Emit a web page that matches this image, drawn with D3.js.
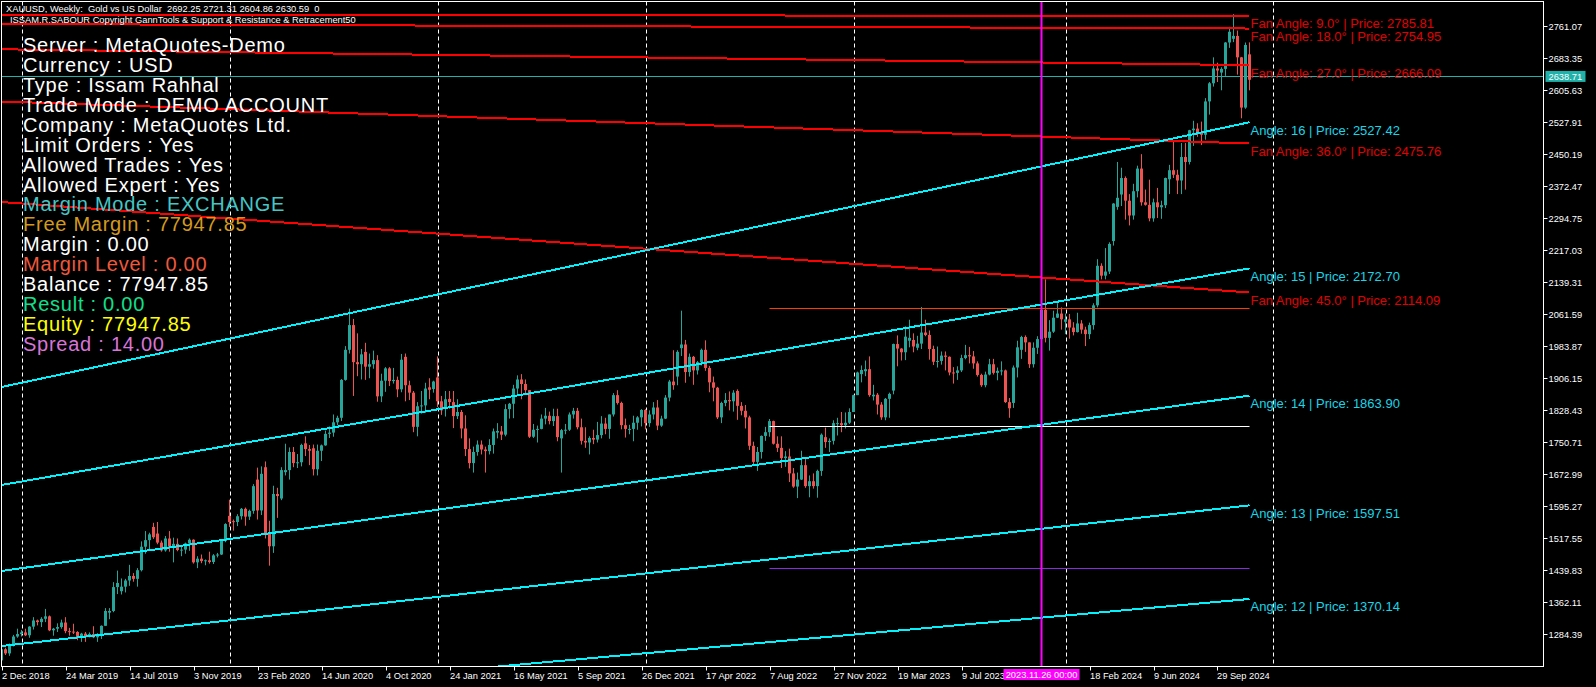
<!DOCTYPE html>
<html><head><meta charset="utf-8">
<script src="https://cdn.jsdelivr.net/npm/d3@7"></script>
<style>html,body{margin:0;padding:0;background:#000;overflow:hidden} text{white-space:pre}</style>
</head><body>
<svg id="chart" width="1596" height="687"></svg>
<script>
// ---------- DATA (weekly XAUUSD, week 0 = 2 Dec 2018) ----------
const opens = [
1221,1248,1238,1256,1279,1285,1289,1282,1303,1318,
1314,1322,1328,1294,1298,1302,1313,1292,1291,1290,
1276,1286,1280,1285,1277,1284,1305,1337,1341,1399,
1389,1400,1415,1426,1419,1440,1497,1513,1545,1529,
1507,1488,1517,1497,1504,1489,1490,1505,1514,1459,
1468,1462,1464,1460,1476,1478,1511,1572,1559,1557,
1571,1589,1570,1584,1660,1585,1690,1530,1498,1625,
1614,1678,1683,1727,1700,1702,1748,1734,1736,1685,
1730,1743,1771,1774,1799,1810,1902,1975,2035,1945,
1940,1970,1934,1940,1950,1862,1900,1930,1899,1902,
1879,1958,1889,1871,1788,1838,1840,1884,1880,1908,
1850,1833,1856,1848,1814,1824,1784,1734,1700,1727,
1745,1733,1729,1744,1774,1777,1769,1831,1844,1881,
1903,1892,1877,1764,1781,1783,1808,1815,1802,1814,
1760,1780,1781,1818,1827,1787,1754,1750,1761,1757,
1768,1796,1783,1818,1865,1846,1792,1781,1783,1798,
1811,1829,1797,1818,1835,1791,1808,1859,1898,1910,
1979,1988,1921,1958,1925,1945,1975,1931,1896,1883,
1811,1846,1853,1850,1875,1839,1827,1811,1742,1703,
1727,1766,1775,1802,1747,1737,1712,1716,1675,1643,
1660,1695,1644,1656,1644,1681,1763,1751,1754,1795,
1797,1792,1798,1824,1865,1916,1923,1928,1862,1866,
1842,1811,1856,1876,1989,1978,1969,1997,1999,1980,
1990,2017,2011,1977,1946,1948,1961,1958,1920,1919,
1925,1955,1962,1959,1942,1914,1889,1915,1940,1919,
1924,1925,1848,1846,1932,1975,2006,1993,1940,1980,
2001,2072,2004,2019,2053,2063,2043,2049,2029,2018,
2039,2024,2013,2035,2083,2179,2155,2165,2239,2322,
2352,2392,2337,2301,2360,2415,2333,2327,2294,2333,
2321,2326,2389,2411,2400,2386,2443,2431,2508,2512,
2503,2497,2578,2622,2658,2648,2657,2721,2730,2737,
2685,2563,2692.25];
const highs = [
1250,1252,1262,1283,1298,1295,1298,1304,1326,1320,
1326,1346,1330,1300,1311,1320,1326,1300,1310,1292,
1288,1290,1289,1304,1287,1306,1348,1348,1411,1439,
1420,1419,1453,1433,1445,1510,1535,1531,1555,1557,
1512,1523,1535,1519,1517,1498,1507,1517,1515,1474,
1478,1466,1485,1479,1482,1514,1554,1611,1563,1576,
1591,1592,1587,1649,1689,1692,1704,1560,1645,1640,
1690,1747,1738,1739,1722,1747,1765,1744,1745,1745,
1745,1779,1789,1818,1815,1904,1984,2075,2050,2015,
1977,1992,1966,1973,1962,1917,1933,1933,1931,1910,
1965,1966,1900,1875,1848,1875,1895,1906,1900,1959,
1863,1875,1875,1875,1855,1829,1816,1760,1740,1755,
1755,1740,1758,1784,1797,1790,1843,1846,1890,1913,
1916,1903,1877,1795,1791,1818,1834,1825,1832,1832,
1783,1795,1823,1834,1834,1808,1787,1765,1781,1800,
1814,1810,1818,1870,1877,1849,1808,1793,1815,1814,
1831,1831,1828,1848,1853,1815,1865,1902,1974,1974,
2070,1999,1966,1960,1948,1978,1998,1936,1910,1885,
1849,1870,1874,1877,1879,1848,1841,1815,1752,1739,
1767,1788,1807,1803,1765,1765,1729,1735,1688,1677,
1730,1714,1670,1675,1684,1772,1786,1760,1804,1810,
1824,1823,1833,1866,1922,1937,1949,1959,1890,1870,
1848,1858,1871,1990,2010,1979,2032,2048,2015,2009,
2079,2048,2022,1985,1983,1971,1971,1959,1933,1935,
1963,1987,1982,1972,1947,1917,1922,1953,1953,1932,
1947,1927,1858,1937,1997,2009,2010,1993,1993,2008,
2075,2146,2047,2070,2088,2078,2063,2062,2042,2065,
2047,2031,2041,2088,2195,2185,2222,2236,2331,2431,
2417,2396,2353,2378,2422,2450,2364,2388,2342,2368,
2337,2393,2424,2483,2412,2477,2477,2509,2531,2525,
2529,2586,2625,2685,2672,2661,2722,2759,2790,2750,
2686,2721,2721.31];
const lows = [
1218,1234,1232,1255,1276,1279,1280,1276,1296,1306,
1302,1314,1292,1281,1290,1298,1287,1281,1285,1270,
1266,1266,1277,1275,1266,1273,1305,1321,1338,1382,
1381,1386,1402,1412,1400,1437,1480,1491,1516,1503,
1485,1485,1485,1459,1486,1474,1480,1487,1456,1445,
1457,1452,1456,1455,1471,1477,1508,1545,1536,1547,
1563,1548,1562,1577,1563,1574,1517,1451,1482,1567,
1610,1670,1660,1690,1688,1692,1717,1695,1670,1670,
1705,1742,1761,1764,1792,1802,1900,1966,1863,1911,
1903,1902,1906,1929,1849,1848,1873,1887,1893,1860,
1872,1850,1853,1775,1765,1820,1822,1855,1871,1836,
1817,1813,1832,1785,1807,1760,1717,1687,1677,1718,
1721,1677,1721,1723,1760,1756,1765,1808,1809,1868,
1855,1866,1761,1761,1750,1782,1794,1794,1790,1753,
1677,1770,1778,1808,1782,1745,1737,1721,1746,1750,
1760,1770,1759,1813,1842,1782,1762,1770,1753,1781,
1789,1782,1788,1806,1780,1788,1807,1850,1878,1889,
1960,1895,1910,1890,1915,1937,1924,1872,1850,1807,
1797,1838,1828,1825,1805,1816,1784,1732,1697,1681,
1711,1754,1764,1745,1727,1688,1691,1654,1640,1615,
1659,1640,1617,1638,1616,1669,1737,1727,1745,1767,
1775,1784,1795,1824,1865,1896,1911,1861,1852,1818,
1805,1804,1810,1867,1935,1949,1950,1981,1969,1974,
1977,2008,1951,1938,1932,1939,1925,1913,1893,1902,
1921,1952,1942,1929,1910,1885,1884,1913,1915,1901,
1913,1846,1810,1834,1908,1953,1970,1931,1932,1965,
1996,1993,1973,2016,2052,2024,2013,2002,2010,2017,
2014,1984,2001,2024,2078,2146,2146,2159,2228,2315,
2324,2291,2277,2291,2345,2325,2325,2287,2286,2295,
2293,2319,2353,2392,2353,2353,2364,2425,2470,2492,
2472,2485,2546,2614,2625,2605,2640,2708,2722,2643,
2537,2560,2604.86];
const closes = [
1248,1238,1256,1279,1285,1289,1282,1303,1318,1314,
1322,1328,1294,1298,1302,1313,1292,1291,1290,1276,
1286,1280,1285,1277,1284,1305,1341,1341,1399,1409,
1400,1415,1426,1419,1440,1497,1513,1527,1520,1507,
1488,1517,1497,1504,1489,1490,1505,1514,1459,1468,
1462,1464,1460,1476,1478,1511,1552,1557,1557,1571,
1589,1570,1584,1644,1585,1674,1530,1498,1625,1620,
1683,1683,1727,1700,1702,1744,1734,1730,1685,1730,
1743,1771,1774,1799,1810,1902,1975,2035,1945,1940,
1964,1934,1940,1950,1862,1900,1930,1899,1902,1879,
1951,1889,1871,1788,1838,1840,1881,1878,1898,1850,
1828,1855,1848,1814,1824,1784,1734,1700,1727,1745,
1733,1729,1744,1777,1778,1769,1831,1844,1881,1903,
1892,1877,1764,1781,1783,1808,1815,1802,1814,1763,
1780,1781,1818,1827,1787,1754,1750,1761,1757,1768,
1796,1783,1818,1865,1846,1792,1783,1783,1798,1811,
1829,1797,1818,1835,1791,1808,1859,1898,1889,1970,
1988,1921,1958,1925,1945,1975,1931,1896,1883,1811,
1846,1853,1850,1871,1839,1827,1811,1742,1703,1727,
1766,1775,1802,1747,1737,1712,1716,1675,1643,1660,
1695,1644,1656,1644,1681,1769,1751,1754,1797,1797,
1792,1798,1824,1865,1920,1926,1928,1865,1866,1842,
1811,1856,1868,1989,1978,1969,2007,2004,1983,1990,
2017,2011,1977,1946,1948,1961,1958,1920,1919,1925,
1955,1962,1959,1942,1914,1889,1915,1940,1919,1924,
1925,1848,1833,1932,1981,2006,1993,1940,1980,2001,
2072,2004,2019,2053,2063,2049,2049,2029,2018,2039,
2024,2013,2035,2083,2179,2155,2165,2232,2330,2344,
2392,2337,2301,2360,2415,2333,2327,2294,2333,2321,
2326,2392,2411,2400,2386,2443,2431,2508,2512,2503,
2497,2578,2622,2658,2653,2657,2721,2747,2737,2685,
2563,2715,2630.59];

const yTickLabels = ["2761.07","2683.35","2605.63","2527.91","2450.19","2372.47","2294.75","2217.03","2139.31","2061.59","1983.87","1906.15","1828.43","1750.71","1672.99","1595.27","1517.55","1439.83","1362.11","1284.39"];
const xTickWeeks  = [0,16,32,48,64,80,96,112,128,144,160,176,192,208,224,240,272,288,304];
const xTickLabels = ["2 Dec 2018","24 Mar 2019","14 Jul 2019","3 Nov 2019","23 Feb 2020","14 Jun 2020","4 Oct 2020","24 Jan 2021","16 May 2021","5 Sep 2021","26 Dec 2021","17 Apr 2022","7 Aug 2022","27 Nov 2022","19 Mar 2023","9 Jul 2023","18 Feb 2024","9 Jun 2024","29 Sep 2024"];
const gridWeeks = [5,57,109,161,213,266,318];

const gannAngles      = ["12","13","14","15","16"];
const gannStartPrices = [1098.0,1255.9,1438.0,1646.8,1884.7];
const gannEndPrices   = [1370.14,1597.51,1863.90,2172.70,2527.42];
const fanAngles       = ["9.0","18.0","27.0","36.0","45.0"];
const fanStartPrices  = [2787.8,2765.9,2704.5,2577.8,2333.8];
const fanEndPrices    = [2785.81,2754.95,2666.09,2475.76,2114.09];
const levelPrices = [2075.7,1790.0,1444.5];
const levelColors = ["#ff3c00","#ffffff","#8a2be2"];
const levelStartWeek = 192;
const markerWeek = 260;
const markerLabel = "2023.11.26 00:00";
const currentPrice = 2638.71;
const headerLines = ["XAUUSD, Weekly:  Gold vs US Dollar  2692.25 2721.31 2604.86 2630.59  0",
                     "ISSAM.R.SABOUR Copyright GannTools & Support & Resistance & Retracement50"];
const infoLines = ["Server : MetaQuotes-Demo","Currency : USD","Type : Issam Rahhal","Trade Mode : DEMO ACCOUNT",
  "Company : MetaQuotes Ltd.","Limit Orders : Yes","Allowed Trades : Yes","Allowed Expert : Yes",
  "Margin Mode : EXCHANGE","Free Margin : 77947.85","Margin : 0.00","Margin Level : 0.00",
  "Balance : 77947.85","Result : 0.00","Equity : 77947.85","Spread : 14.00"];
const infoColors = ["#fff","#fff","#fff","#fff","#fff","#fff","#fff","#fff",
  "#45c6c6","#d49a1e","#fff","#f0583c","#fff","#10e08c","#ffff00","#d875d8"];

// ---------- LAYOUT ----------
const svg = d3.select("#chart");
const W = 1596, H = 687;
const plot = {left: 1.5, top: 1.5, right: 1543.5, bottom: 666.5};
const lastIdx = closes.length - 1;
const x = d3.scaleLinear().domain([0, lastIdx]).range([1.5, 1.5 + 4 * lastIdx]);
const y = d3.scaleLinear().domain([1284.39, 2761.07]).range([634.3, 26]);
const smallFont = "'Liberation Sans', Arial, sans-serif";

svg.append("rect").attr("width", W).attr("height", H).attr("fill", "#000");
svg.append("defs").append("clipPath").attr("id", "clip")
  .append("rect").attr("x", plot.left).attr("y", plot.top)
  .attr("width", plot.right - plot.left).attr("height", plot.bottom - plot.top);
const g = svg.append("g").attr("clip-path", "url(#clip)");

// grid
g.selectAll("line.grid").data(gridWeeks).enter().append("line")
  .attr("x1", d => Math.round(x(d)) + 0.5).attr("x2", d => Math.round(x(d)) + 0.5)
  .attr("y1", plot.top).attr("y2", plot.bottom)
  .attr("stroke", "#ffffff").attr("stroke-width", 1).attr("stroke-dasharray", "4,3");

// current price line
g.append("line").attr("x1", plot.left).attr("x2", plot.right)
  .attr("y1", Math.round(y(currentPrice)) + 0.5).attr("y2", Math.round(y(currentPrice)) + 0.5)
  .attr("stroke", "#20b2aa").attr("stroke-width", 1);

// candles
const candles = d3.range(closes.length).map(i => ({i, o: opens[i], h: highs[i], l: lows[i], c: closes[i]}));
const up = "#26a69a", dn = "#ef5350";
const cg = g.append("g");
cg.selectAll("line.wick").data(candles).enter().append("line")
  .attr("x1", d => x(d.i)).attr("x2", d => x(d.i))
  .attr("y1", d => y(d.h)).attr("y2", d => y(d.l))
  .attr("stroke", d => d.c >= d.o ? up : dn).attr("stroke-width", 1);
cg.selectAll("rect.body").data(candles).enter().append("rect")
  .attr("x", d => x(d.i) - 1.5).attr("width", 3)
  .attr("y", d => y(Math.max(d.o, d.c)))
  .attr("height", d => Math.max(1, Math.abs(y(d.o) - y(d.c))))
  .attr("fill", d => d.c >= d.o ? up : dn);

// horizontal levels
g.selectAll("line.level").data(levelPrices).enter().append("line")
  .attr("x1", x(levelStartWeek)).attr("x2", x(lastIdx))
  .attr("y1", d => Math.round(y(d)) + 0.5).attr("y2", d => Math.round(y(d)) + 0.5)
  .attr("stroke", (d, k) => levelColors[k]).attr("stroke-width", 1);

// fan (red) lines
const lineGen = d3.line().x(d => x(d[0])).y(d => y(d[1]));
fanAngles.forEach((a, k) => {
  g.append("path").datum([[0, fanStartPrices[k]], [lastIdx, fanEndPrices[k]]])
    .attr("d", lineGen).attr("fill", "none").attr("stroke", "#ff0000").attr("stroke-width", 2)
    .attr("shape-rendering", "crispEdges");
});
// gann (cyan) lines
gannAngles.forEach((a, k) => {
  g.append("path").datum([[0, gannStartPrices[k]], [lastIdx, gannEndPrices[k]]])
    .attr("d", lineGen).attr("fill", "none").attr("stroke", "#00f4ff").attr("stroke-width", 2)
    .attr("shape-rendering", "crispEdges");
});

// vertical marker
g.append("line").attr("x1", x(markerWeek)).attr("x2", x(markerWeek))
  .attr("y1", plot.top).attr("y2", plot.bottom)
  .attr("stroke", "#ff00ff").attr("stroke-width", 2);

// line labels
const lblX = x(lastIdx) + 1;
fanAngles.forEach((a, k) => {
  g.append("text").attr("x", lblX).attr("y", y(fanEndPrices[k]) + 12.5)
    .attr("font-family", smallFont).attr("font-size", 13).attr("fill", "#e00000")
    .text(`Fan Angle: ${a}° | Price: ${fanEndPrices[k].toFixed(2)}`);
});
gannAngles.forEach((a, k) => {
  g.append("text").attr("x", lblX).attr("y", y(gannEndPrices[k]) + 12.5)
    .attr("font-family", smallFont).attr("font-size", 13).attr("fill", "#18d6e8")
    .text(`Angle: ${a} | Price: ${gannEndPrices[k].toFixed(2)}`);
});

// info block
infoLines.forEach((t, k) => {
  svg.append("text").attr("x", 23).attr("y", 52 + 19.93 * k)
    .attr("font-family", "Arial, 'Liberation Sans', sans-serif").attr("font-size", 20)
    .attr("letter-spacing", 0.75)
    .attr("fill", infoColors[k]).text(t);
});

// header
headerLines.forEach((t, k) => {
  svg.append("text").attr("x", k === 0 ? 6 : 10).attr("y", 12 + 10.5 * k)
    .attr("font-family", smallFont).attr("font-size", 9.3).attr("fill", "#fff").text(t);
});

// frame
svg.append("rect").attr("x", plot.left).attr("y", plot.top)
  .attr("width", plot.right - plot.left).attr("height", plot.bottom - plot.top)
  .attr("fill", "none").attr("stroke", "#fff").attr("stroke-width", 1);

// right axis
const ya = svg.append("g");
yTickLabels.forEach(lbl => {
  const yy = Math.round(y(+lbl)) + 0.5;
  ya.append("line").attr("x1", plot.right).attr("x2", plot.right + 4).attr("y1", yy).attr("y2", yy)
    .attr("stroke", "#fff");
  ya.append("text").attr("x", plot.right + 5).attr("y", yy).attr("dy", "0.35em")
    .attr("font-family", smallFont).attr("font-size", 9.3).attr("fill", "#fff").text(lbl);
});
// current price box
const cpY = y(currentPrice);
svg.append("rect").attr("x", plot.right + 2).attr("y", cpY - 5.5).attr("width", 40).attr("height", 11)
  .attr("fill", "#20b2aa");
svg.append("text").attr("x", plot.right + 5).attr("y", cpY).attr("dy", "0.35em")
  .attr("font-family", smallFont).attr("font-size", 9.3).attr("fill", "#fff").text(currentPrice.toFixed(2));

// bottom axis
const xa = svg.append("g");
xTickWeeks.forEach((w, k) => {
  const xx = Math.round(x(w)) + 0.5;
  xa.append("line").attr("x1", xx).attr("x2", xx).attr("y1", plot.bottom).attr("y2", plot.bottom + 4)
    .attr("stroke", "#fff");
  xa.append("text").attr("x", xx - 0.5).attr("y", 678.5)
    .attr("font-family", smallFont).attr("font-size", 9.3).attr("fill", "#fff").text(xTickLabels[k]);
});
// marker label
const mx = x(markerWeek);
svg.append("rect").attr("x", mx - 38).attr("y", 669).attr("width", 76).attr("height", 11).attr("fill", "#ff00ff");
svg.append("text").attr("x", mx).attr("y", 678).attr("text-anchor", "middle")
  .attr("font-family", smallFont).attr("font-size", 9.3).attr("fill", "#fff").text(markerLabel);
</script>
</body></html>
